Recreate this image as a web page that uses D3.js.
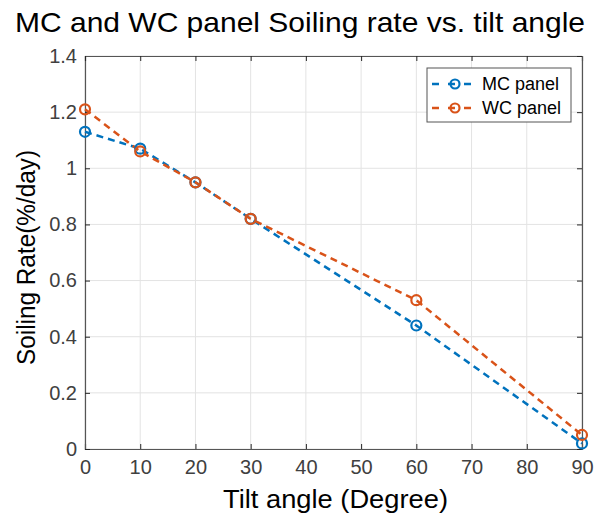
<!DOCTYPE html>
<html>
<head>
<meta charset="utf-8">
<script src="https://cdn.jsdelivr.net/npm/d3@7"></script>
<style>
  body { margin: 0; background: #fff; }
  text { font-family: "Liberation Sans", Arial, sans-serif; }
</style>
</head>
<body>
<div id="chart"></div>
<script>
/* DATA */
const tiltAngles = [0, 10, 20, 30, 60, 90];
const mcRate = [1.13, 1.07, 0.95, 0.82, 0.44, 0.02];
const wcRate = [1.21, 1.06, 0.95, 0.82, 0.53, 0.05];
const xTicks = [0, 10, 20, 30, 40, 50, 60, 70, 80, 90];
const yTicks = [0, 0.2, 0.4, 0.6, 0.8, 1, 1.2, 1.4];
const seriesNames = ["MC panel", "WC panel"];
const seriesColors = ["#0072BD", "#D95319"];

/* CONSTANTS */
const width = 598,
  height = 520,
  margin = { top: 56, bottom: 71, left: 85, right: 16 };

const svg = d3.select("#chart")
  .append("svg")
  .attr("width", width)
  .attr("height", height);

const xScale = d3.scaleLinear()
  .domain([0, 90])
  .range([margin.left, width - margin.right]);

const yScale = d3.scaleLinear()
  .domain([0, 1.4])
  .range([height - margin.bottom, margin.top]);

// grid
svg.append("g")
  .selectAll("line.vgrid")
  .data(xTicks)
  .join("line")
  .attr("x1", d => xScale(d)).attr("x2", d => xScale(d))
  .attr("y1", yScale(0)).attr("y2", yScale(1.4))
  .attr("stroke", "#e3e3e3").attr("stroke-width", 1);

svg.append("g")
  .selectAll("line.hgrid")
  .data(yTicks)
  .join("line")
  .attr("x1", xScale(0)).attr("x2", xScale(90))
  .attr("y1", d => yScale(d)).attr("y2", d => yScale(d))
  .attr("stroke", "#e3e3e3").attr("stroke-width", 1);

// axes (ticks inward)
const axisColor = "#262626";
const xAxis = d3.axisBottom(xScale).tickValues(xTicks).tickSize(-5).tickPadding(10).tickFormat(d3.format("d"));
const yAxis = d3.axisLeft(yScale).tickValues(yTicks).tickSize(-5).tickPadding(8).tickFormat(d => d3.format("")(d));

const gx = svg.append("g")
  .attr("transform", `translate(0, ${yScale(0)})`)
  .call(xAxis);
const gy = svg.append("g")
  .attr("transform", `translate(${xScale(0)}, 0)`)
  .call(yAxis);

// top and right ticks
svg.append("g")
  .attr("transform", `translate(0, ${yScale(1.4)})`)
  .call(d3.axisTop(xScale).tickValues(xTicks).tickSize(-5).tickFormat(""));
svg.append("g")
  .attr("transform", `translate(${xScale(90)}, 0)`)
  .call(d3.axisRight(yScale).tickValues(yTicks).tickSize(-5).tickFormat(""));

svg.selectAll(".tick line").attr("stroke", axisColor);
gx.selectAll("text").attr("font-size", 20).attr("fill", "#404040").attr("dy", "0.75em");
gy.selectAll("text").attr("font-size", 20).attr("fill", "#404040");
svg.selectAll(".domain").attr("stroke", "#555").attr("stroke-width", 1.2);

// lines
const lineFunction = d3.line()
  .x(d => xScale(d.x))
  .y(d => yScale(d.y));

const series = [mcRate, wcRate].map((vals, i) => ({
  name: seriesNames[i],
  color: seriesColors[i],
  values: tiltAngles.map((x, j) => ({ x: x, y: vals[j] }))
}));

series.forEach(s => {
  svg.append("path")
    .datum(s.values)
    .attr("fill", "none")
    .attr("stroke", s.color)
    .attr("stroke-width", 2.5)
    .attr("stroke-dasharray", "7,5")
    .attr("d", lineFunction);
});

series.forEach(s => {
  svg.append("g")
    .selectAll("circle")
    .data(s.values)
    .join("circle")
    .attr("cx", d => xScale(d.x))
    .attr("cy", d => yScale(d.y))
    .attr("r", 5)
    .attr("fill", "none")
    .attr("stroke", s.color)
    .attr("stroke-width", 2.2);
});

// legend
const legend = svg.append("g").attr("transform", "translate(427, 68)");
legend.append("rect")
  .attr("width", 144).attr("height", 54)
  .attr("fill", "#fff").attr("stroke", "#555").attr("stroke-width", 1);

series.forEach((s, i) => {
  const y = 16 + i * 24;
  legend.append("line")
    .attr("x1", 5).attr("x2", 52).attr("y1", y).attr("y2", y)
    .attr("stroke", s.color).attr("stroke-width", 2.5)
    .attr("stroke-dasharray", "7,9");
  legend.append("circle")
    .attr("cx", 28).attr("cy", y).attr("r", 4.5)
    .attr("fill", "none").attr("stroke", s.color).attr("stroke-width", 2.2);
  legend.append("text")
    .attr("x", 55).attr("y", y).attr("dy", "0.35em")
    .attr("font-size", 18).attr("fill", "#000")
    .text(s.name);
});

// labels
svg.append("text")
  .attr("x", 15).attr("y", 32)
  .attr("font-size", 28).attr("fill", "#000")
  .attr("textLength", 570).attr("lengthAdjust", "spacingAndGlyphs")
  .text("MC and WC panel Soiling rate vs. tilt angle");

svg.append("text")
  .attr("x", 223).attr("y", 508)
  .attr("font-size", 25).attr("fill", "#000")
  .attr("textLength", 225).attr("lengthAdjust", "spacingAndGlyphs")
  .text("Tilt angle (Degree)");

svg.append("text")
  .attr("transform", `translate(35, 365) rotate(-90)`)
  .attr("font-size", 25).attr("fill", "#000")
  .attr("textLength", 215).attr("lengthAdjust", "spacingAndGlyphs")
  .text("Soiling Rate(%/day)");
</script>
</body>
</html>
